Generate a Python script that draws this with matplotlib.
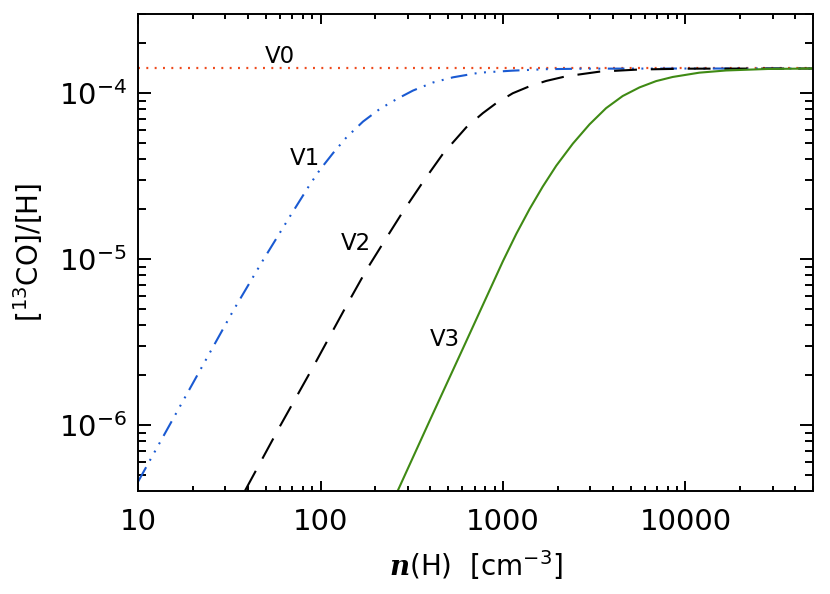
import matplotlib
matplotlib.use("Agg")
import matplotlib.pyplot as plt
from matplotlib import ticker

plt.rcParams['font.family'] = ['DejaVu Sans']
plt.rcParams['mathtext.fontset'] = 'custom'
plt.rcParams['mathtext.rm'] = 'DejaVu Sans'
plt.rcParams['mathtext.it'] = 'DejaVu Sans:italic'
plt.rcParams['mathtext.bf'] = 'DejaVu Serif:italic:bold'
plt.rcParams['lines.scale_dashes'] = False

# ---- data ----
v0_n = [10, 50000]
v0_y = [1.41e-4, 1.41e-4]

v1_n = [10, 17.0, 33.3, 47.9, 67.9, 87.3, 99.1, 117.2, 138.7, 171.0, 211.3, 260.6, 321.4,
        414, 532, 745, 1132, 1726, 2818, 10000, 50000]
v1_y = [4.57e-7, 1.303e-6, 4.92e-6, 9.68e-6, 1.807e-5, 2.81e-5, 3.45e-5, 4.36e-5, 5.42e-5,
        6.75e-5, 8.04e-5, 9.20e-5, 1.038e-4, 1.161e-4, 1.247e-4, 1.330e-4, 1.368e-4, 1.396e-4,
        1.406e-4, 1.409e-4, 1.409e-4]

v2_n = [38.5, 59.8, 91.2, 138.7, 178.6, 227, 283, 365, 469, 630, 776, 918, 1132, 1400,
        1726, 2218, 3381, 5598, 10470, 50000]
v2_y = [4.02e-7, 9.82e-7, 2.25e-6, 5.25e-6, 8.63e-6, 1.318e-5, 1.936e-5, 2.93e-5, 4.32e-5,
        6.24e-5, 7.59e-5, 8.71e-5, 1.0e-4, 1.102e-4, 1.186e-4, 1.265e-4, 1.349e-4, 1.390e-4,
        1.406e-4, 1.409e-4]

v3_n = [266, 396, 604, 1000, 1183, 1400, 1652, 1959, 2415, 2979, 3673, 4529, 5598, 6902,
        8511, 11910, 16670, 28180, 50000]
v3_y = [4.07e-7, 1.062e-6, 2.91e-6, 9.75e-6, 1.422e-5, 2.01e-5, 2.74e-5, 3.66e-5, 4.97e-5,
        6.49e-5, 8.13e-5, 9.62e-5, 1.084e-4, 1.183e-4, 1.253e-4, 1.330e-4, 1.371e-4, 1.400e-4,
        1.409e-4]

x_ticks = [10, 100, 1000, 10000]
x_ticklabels = ['10', '100', '1000', '10000']
y_ticks = [1e-6, 1e-5, 1e-4]
y_ticklabels = [r'$10^{-6}$', r'$10^{-5}$', r'$10^{-4}$']

# ---- figure ----
fig = plt.figure(figsize=(8.30, 5.94), dpi=100)
ax = fig.add_axes([0.1663, 0.1734, 0.9795 - 0.1663, 0.9764 - 0.1734])

ax.plot(v0_n, v0_y, color='#ee4a1c', lw=1.6, linestyle=(0, (1.4, 4.6)), dash_capstyle='butt')
ax.plot(v1_n, v1_y, color='#1a5ad2', lw=1.5,
        linestyle=(0, (12, 5.4, 1.4, 5.4, 1.4, 5.4, 1.4, 5.4)))
ax.plot(v2_n, v2_y, color='black', lw=1.5, linestyle=(0, (16.5, 10)))
ax.plot(v3_n, v3_y, color='#3f8a14', lw=1.5, linestyle='-')

ax.set_xscale('log')
ax.set_yscale('log')
ax.set_xlim(10, 5.0e4)
ax.set_ylim(4.02e-7, 3.0e-4)

ax.set_xticks(x_ticks, labels=x_ticklabels)
ax.set_yticks(y_ticks, labels=y_ticklabels)
ax.xaxis.set_minor_formatter(ticker.NullFormatter())
ax.yaxis.set_minor_formatter(ticker.NullFormatter())
ax.tick_params(which='both', direction='in', top=True, right=True, width=1.4, labelsize=21)
ax.tick_params(axis='x', which='major', length=7, pad=12)
ax.tick_params(axis='x', which='minor', length=3.8)
ax.tick_params(axis='y', which='major', length=9.5, pad=8)
ax.tick_params(axis='y', which='minor', length=5.5)
for s in ax.spines.values():
    s.set_linewidth(1.4)

ax.set_xlabel(r'$\mathbf{n}$(H)  [cm$^{-3}$]', fontsize=20, labelpad=9)
ax.set_ylabel(r'[$^{13}$CO]/[H]', fontsize=20, labelpad=10)

ax.text(60, 1.66e-4, 'V0', fontsize=16.5, ha='center', va='center')
ax.text(82, 4.07e-5, 'V1', fontsize=16.5, ha='center', va='center')
ax.text(156, 1.25e-5, 'V2', fontsize=16.5, ha='center', va='center')
ax.text(479, 3.27e-6, 'V3', fontsize=16.5, ha='center', va='center')

fig.savefig('out.png', dpi=100)
